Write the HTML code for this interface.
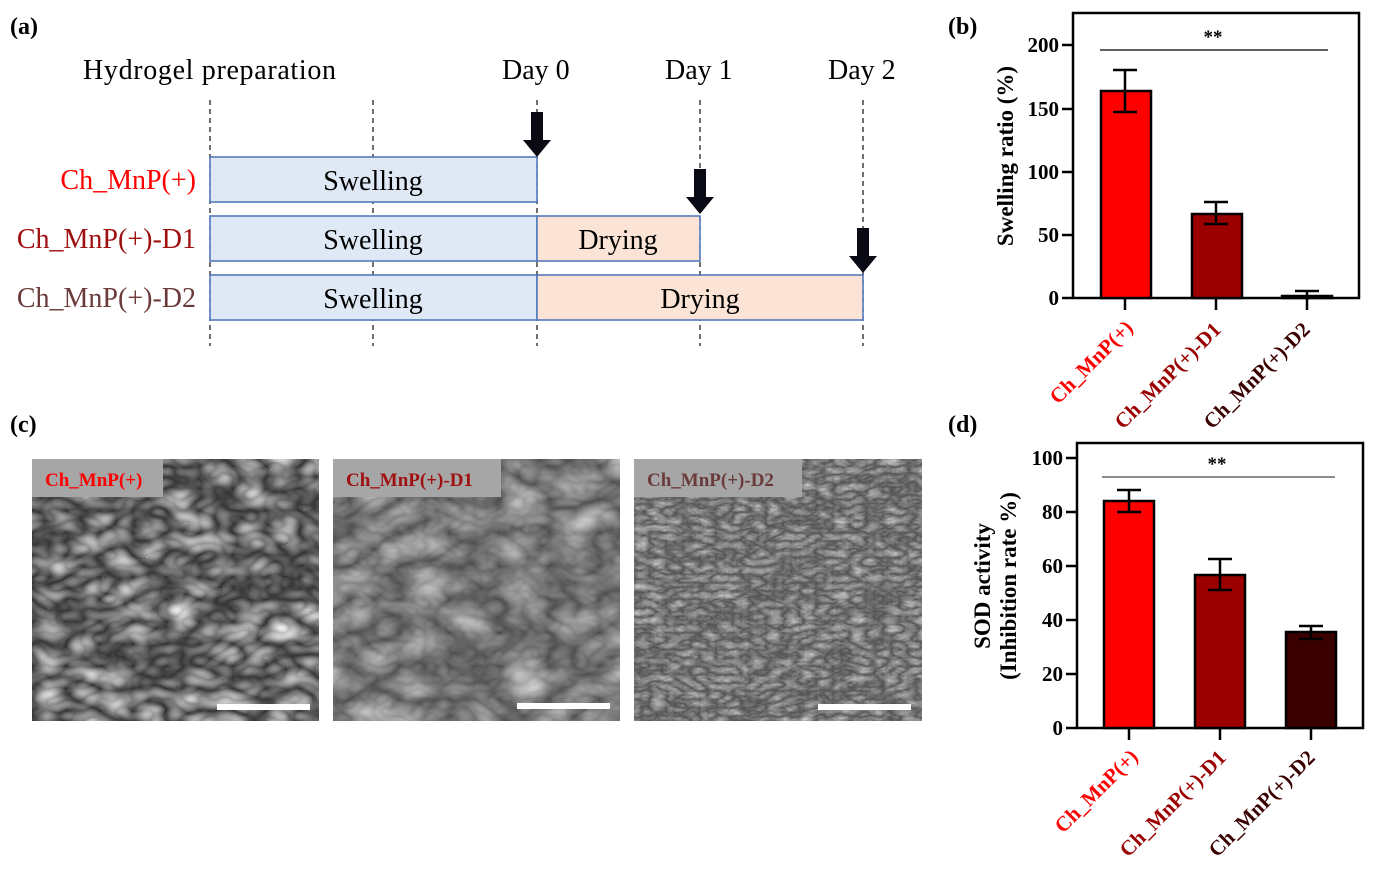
<!DOCTYPE html>
<html><head><meta charset="utf-8"><style>
body{margin:0;background:#fff;}
svg{display:block;font-family:"Liberation Serif",serif;}
</style></head><body>
<svg width="1378" height="869" viewBox="0 0 1378 869" xmlns="http://www.w3.org/2000/svg">
<defs>
<filter id="t1" x="0" y="0" width="100%" height="100%" color-interpolation-filters="sRGB"><feTurbulence type="turbulence" baseFrequency="0.03 0.045" numOctaves="2" seed="5"/><feColorMatrix type="matrix" values="0.9 0 0 0 0.2 0.9 0 0 0 0.2 0.9 0 0 0 0.2 0 0 0 0 1"/></filter>
<filter id="t2" x="0" y="0" width="100%" height="100%" color-interpolation-filters="sRGB"><feTurbulence type="turbulence" baseFrequency="0.02 0.03" numOctaves="3" seed="8"/><feColorMatrix type="matrix" values="0.6 0 0 0 0.3 0.6 0 0 0 0.3 0.6 0 0 0 0.3 0 0 0 0 1"/></filter>
<filter id="t3" x="0" y="0" width="100%" height="100%" color-interpolation-filters="sRGB"><feTurbulence type="turbulence" baseFrequency="0.06 0.12" numOctaves="3" seed="11"/><feColorMatrix type="matrix" values="0.55 0 0 0 0.3 0.55 0 0 0 0.3 0.55 0 0 0 0.3 0 0 0 0 1"/></filter>
</defs>
<g font-weight="bold" font-size="24">
<text x="10" y="34">(a)</text><text x="948" y="34">(b)</text>
<text x="10" y="432">(c)</text><text x="948" y="432">(d)</text>
</g>
<!-- panel a -->
<g font-size="28">
<text x="83" y="79" textLength="253">Hydrogel preparation</text>
<text x="502" y="79">Day 0</text><text x="665" y="79">Day 1</text><text x="828" y="79">Day 2</text>
<text x="196" y="189" text-anchor="end" fill="#ff0000">Ch_MnP(+)</text>
<text x="196" y="248" text-anchor="end" fill="#a01010">Ch_MnP(+)-D1</text>
<text x="196" y="307" text-anchor="end" fill="#6b3a3a">Ch_MnP(+)-D2</text>
</g>
<g stroke="#222" stroke-width="1.3" stroke-dasharray="5,4">
<line x1="210" y1="100" x2="210" y2="346"/><line x1="373" y1="100" x2="373" y2="346"/><line x1="537" y1="100" x2="537" y2="346"/><line x1="700" y1="100" x2="700" y2="346"/><line x1="863" y1="100" x2="863" y2="346"/>
</g>
<g stroke="#4a72b8" stroke-width="1.5">
<rect x="210" y="157" width="327" height="45" fill="#dfe9f5"/>
<rect x="210" y="216" width="327" height="45" fill="#dfe9f5"/>
<rect x="210" y="275" width="327" height="45" fill="#dfe9f5"/>
<rect x="537" y="216" width="163" height="45" fill="#fbe4d5"/>
<rect x="537" y="275" width="326" height="45" fill="#fbe4d5"/>
</g>
<g font-size="28" text-anchor="middle">
<text x="373" y="190">Swelling</text><text x="373" y="249">Swelling</text><text x="373" y="308">Swelling</text>
<text x="618" y="249">Drying</text><text x="700" y="308">Drying</text>
</g>
<g fill="#0a0a14">
<path d="M531 112h12v28h8l-14 17-14-17h8z"/>
<path d="M694 169h12v28h8l-14 17-14-17h8z"/>
<path d="M857 228h12v28h8l-14 17-14-17h8z"/>
</g>
<!-- panel c -->
<rect x="32" y="459" width="287" height="262" fill="#6e6e6e" filter="url(#t1)"/>
<rect x="333" y="459" width="287" height="262" fill="#8a8a8a" filter="url(#t2)"/>
<rect x="634" y="459" width="288" height="262" fill="#777" filter="url(#t3)"/>
<rect x="32" y="459" width="131" height="38" fill="#a6a6a6"/>
<rect x="333" y="459" width="168" height="38" fill="#a6a6a6"/>
<rect x="634" y="459" width="168" height="38" fill="#a6a6a6"/>
<g font-size="19" font-weight="bold">
<text x="45" y="486" fill="#ff0000">Ch_MnP(+)</text>
<text x="346" y="486" fill="#a01010">Ch_MnP(+)-D1</text>
<text x="647" y="486" fill="#6b3a3a">Ch_MnP(+)-D2</text>
</g>
<g fill="#fff"><rect x="217" y="704" width="93" height="6"/><rect x="517" y="703" width="93" height="6"/><rect x="818" y="704" width="93" height="6"/></g>
<!-- panel b -->
<g font-weight="bold">
<rect x="1073" y="13" width="286" height="285" fill="none" stroke="#000" stroke-width="2.5"/>
<g stroke="#000" stroke-width="2.5">
<line x1="1062" y1="45" x2="1073" y2="45"/><line x1="1062" y1="109" x2="1073" y2="109"/><line x1="1062" y1="172" x2="1073" y2="172"/><line x1="1062" y1="235" x2="1073" y2="235"/><line x1="1062" y1="298" x2="1073" y2="298"/>
<line x1="1125" y1="298" x2="1125" y2="310"/><line x1="1216" y1="298" x2="1216" y2="310"/><line x1="1307" y1="298" x2="1307" y2="310"/>
</g>
<g font-size="21" text-anchor="end"><text x="1059" y="52">200</text><text x="1059" y="116">150</text><text x="1059" y="179">100</text><text x="1059" y="242">50</text><text x="1059" y="305">0</text></g>
<text transform="translate(1013,156) rotate(-90)" font-size="23" text-anchor="middle">Swelling ratio (%)</text>
<g stroke="#000" stroke-width="2.5">
<rect x="1101" y="91" width="50" height="207" fill="#ff0000"/>
<rect x="1192" y="214" width="50" height="84" fill="#9b0000"/>
<rect x="1282" y="296" width="50" height="2" fill="#3a0000"/>
<path d="M1125 70v42M1113 70h24M1113 112h24M1216 202v22M1204 202h24M1204 224h24M1307 291v7M1295 291h24" fill="none"/>
</g>
<line x1="1100" y1="50" x2="1328" y2="50" stroke="#000" stroke-width="1.2"/>
<text x="1213" y="43" font-size="19" text-anchor="middle">**</text>
<g font-size="21">
<text transform="translate(1058,405) rotate(-45)" fill="#ff0000">Ch_MnP(+)</text>
<text transform="translate(1123,430) rotate(-45)" fill="#9b0000">Ch_MnP(+)-D1</text>
<text transform="translate(1212,430) rotate(-45)" fill="#3a0000">Ch_MnP(+)-D2</text>
</g>
</g>
<!-- panel d -->
<g font-weight="bold">
<rect x="1077" y="443" width="286" height="285" fill="none" stroke="#000" stroke-width="2.5"/>
<g stroke="#000" stroke-width="2.5">
<line x1="1066" y1="458" x2="1077" y2="458"/><line x1="1066" y1="512" x2="1077" y2="512"/><line x1="1066" y1="566" x2="1077" y2="566"/><line x1="1066" y1="620" x2="1077" y2="620"/><line x1="1066" y1="674" x2="1077" y2="674"/><line x1="1066" y1="728" x2="1077" y2="728"/>
<line x1="1129" y1="728" x2="1129" y2="740"/><line x1="1220" y1="728" x2="1220" y2="740"/><line x1="1311" y1="728" x2="1311" y2="740"/>
</g>
<g font-size="21" text-anchor="end"><text x="1063" y="465">100</text><text x="1063" y="519">80</text><text x="1063" y="573">60</text><text x="1063" y="627">40</text><text x="1063" y="681">20</text><text x="1063" y="735">0</text></g>
<text transform="translate(990,586) rotate(-90)" font-size="23" text-anchor="middle">SOD activity</text>
<text transform="translate(1016,586) rotate(-90)" font-size="23" text-anchor="middle">(Inhibition rate %)</text>
<g stroke="#000" stroke-width="2.5">
<rect x="1104" y="501" width="50" height="227" fill="#ff0000"/>
<rect x="1195" y="575" width="50" height="153" fill="#9b0000"/>
<rect x="1286" y="632" width="50" height="96" fill="#3a0000"/>
<path d="M1129 490v22M1117 490h24M1117 512h24M1220 559v31M1208 559h24M1208 590h24M1311 626v13M1299 626h24M1299 639h24" fill="none"/>
</g>
<line x1="1102" y1="477" x2="1335" y2="477" stroke="#666" stroke-width="1.5"/>
<text x="1217" y="470" font-size="19" text-anchor="middle">**</text>
<g font-size="21">
<text transform="translate(1063,834) rotate(-45)" fill="#ff0000">Ch_MnP(+)</text>
<text transform="translate(1128,858) rotate(-45)" fill="#9b0000">Ch_MnP(+)-D1</text>
<text transform="translate(1217,858) rotate(-45)" fill="#3a0000">Ch_MnP(+)-D2</text>
</g>
</g>
</svg>
</body></html>
